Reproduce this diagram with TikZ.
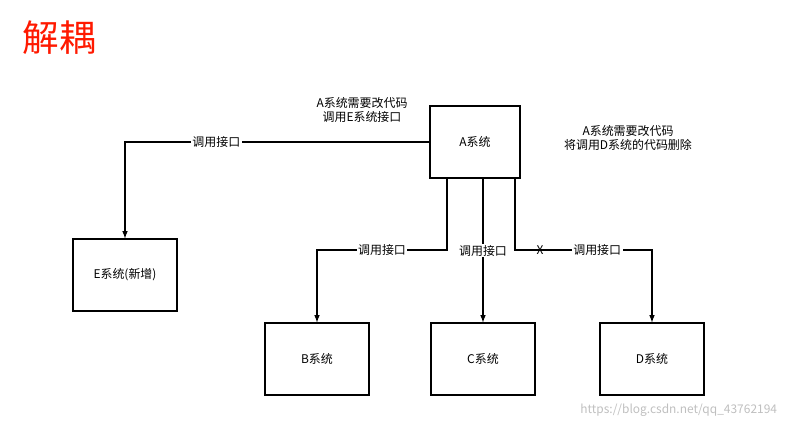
\documentclass[tikz,border=0pt]{standalone}
\usepackage{fontspec}
\setmainfont{Noto Sans CJK SC}
\usetikzlibrary{positioning}

\begin{document}
\begin{tikzpicture}[x=0.025cm,y=-0.025cm,font=\fontsize{8.5}{10.5}\selectfont]
\tikzset{sysbox/.style={draw,thick,minimum width=2.6cm,minimum height=1.8cm},
         call/.style={thick,-latex},
         lbl/.style={fill=white,inner sep=1pt}}

\useasboundingbox (0,0) rectangle (792,429);

\node[anchor=west,text=red!80!orange,font=\fontsize{26}{30}\selectfont] (title) at (18,38) {解耦};

\node[sysbox,minimum width=2.25cm] (A) at (475,142) {A系统};
\node[sysbox] (E) at (125,275) {E系统(新增)};
\node[sysbox] (B) at (317,359) {B系统};
\node[sysbox] (C) at (483,359) {C系统};
\node[sysbox] (D) at (652,359) {D系统};

\coordinate (a1) at (447,178);
\coordinate (a3) at (515,178);

\draw[call] (A.west) -| node[lbl,pos=0.35] {调用接口} (E.north);
\draw[call] (a1) |- (317,250) node[lbl,pos=0.75] {调用接口} -- (B.north);
\draw[call] (C.north |- A.south) -- node[lbl,pos=0.5] {调用接口} (C.north);
\draw[call] (a3) |- (652,250) node[lbl,pos=0.8] {调用接口} -- (D.north);
\node (cross) at (540,250) {X};

\node[align=center] (noteE) at (362,110) {A系统需要改代码\\调用E系统接口};
\node[align=center] (noteD) at (628,138) {A系统需要改代码\\将调用D系统的代码删除};

\node[text=gray!50,anchor=east] (wm) at (782,410) {https://blog.csdn.net/qq\_43762194};
\end{tikzpicture}
\end{document}
